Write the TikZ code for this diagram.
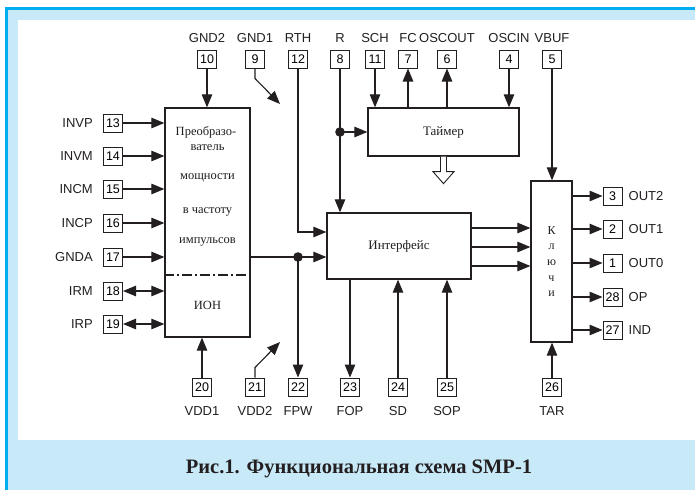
\documentclass[tikz,border=0pt]{standalone}
\usepackage{fontspec}
\setmainfont{Liberation Serif}
\setsansfont{Liberation Sans}
\usetikzlibrary{arrows.meta, positioning, calc}
\definecolor{edgeblue}{RGB}{0,174,239}
\definecolor{paleblue}{RGB}{200,233,248}
\definecolor{ink}{RGB}{35,31,32}

\begin{document}
\begin{tikzpicture}[x=1pt, y=-1pt, >={Triangle[length=13pt,width=10.5pt]},
  pinbox/.style={draw=ink, line width=1pt, minimum width=19pt, minimum height=18pt,
    inner sep=0pt, font=\sffamily\fontsize{12.5}{12.5}\selectfont},
  every label/.style={inner sep=0pt, text=ink, font=\sffamily\fontsize{13}{13}\selectfont},
  blk/.style={draw=ink, line width=1.3pt, inner sep=0pt, text=ink,
    font=\fontsize{13}{14}\selectfont},
  btxt/.style={inner sep=0pt, text=ink, font=\fontsize{12.5}{14}\selectfont},
  wire/.style={draw=ink, line width=1.1pt}]
  \useasboundingbox (0,0) rectangle (695,490);
  % frame and caption band
  \fill[edgeblue] (5,7) rectangle (695,490);
  \fill[paleblue] (8,10) rectangle (695,490);
  \fill[white] (18,20) rectangle (695,440);
  \node[anchor=base, text=ink, font=\bfseries\fontsize{20.5}{20.5}\selectfont] (cap) at (359,473)
    {Рис.1. Функциональная схема SMP-1};

  % blocks
  \node[blk, minimum width=85pt, minimum height=229pt] (conv) at (207.5,222.5) {};
  \node[blk, minimum width=151pt, minimum height=48pt] (tmr) at (443.5,132) {Таймер};
  \node[blk, minimum width=144pt, minimum height=66pt] (intf) at (399,246) {Интерфейс};
  \node[blk, minimum width=41pt, minimum height=161pt, align=center,
    font=\fontsize{12}{15.7}\selectfont] (keys) at (551.5,261.5) {К\\л\\ю\\ч\\и};
  \node[btxt] (convA) at (206,132) {Преобразо-};
  \node[btxt] (convB) at (207.5,148) {ватель};
  \node[btxt] (convC) at (207.5,178) {мощности};
  \node[btxt] (convD) at (207.5,212) {в частоту};
  \node[btxt] (convE) at (207.5,242) {импульсов};
  \node[btxt] (ion) at (207.5,305) {ИОН};
  \draw[ink, line width=1.1pt, dash pattern=on 10pt off 3pt on 2pt off 3pt]
    ([yshift=-52.5pt]conv.west) -- ([yshift=-52.5pt]conv.east);

  % pins, top
  \begin{scope}[label distance=7pt]
    \node[pinbox, label={above:GND2}] (p10) at (207,59) {10};
    \node[pinbox, label={above:GND1}] (p9) at (255,59) {9};
    \node[pinbox, label={above:RTH}] (p12) at (298,59) {12};
    \node[pinbox, label={above:R}] (p8) at (340,59) {8};
    \node[pinbox, label={above:SCH}] (p11) at (375,59) {11};
    \node[pinbox, label={above:FC}] (p7) at (408,59) {7};
    \node[pinbox, label={above:OSCOUT}] (p6) at (447,59) {6};
    \node[pinbox, label={above:OSCIN}] (p4) at (509,59) {4};
    \node[pinbox, label={above:VBUF}] (p5) at (552,59) {5};
  \end{scope}
  % pins, left
  \begin{scope}[label distance=10pt]
    \node[pinbox, label={left:INVP}] (p13) at (113,123) {13};
    \node[pinbox, label={left:INVM}] (p14) at (113,156) {14};
    \node[pinbox, label={left:INCM}] (p15) at (113,189) {15};
    \node[pinbox, label={left:INCP}] (p16) at (113,223) {16};
    \node[pinbox, label={left:GNDA}] (p17) at (113,257) {17};
    \node[pinbox, label={left:IRM}] (p18) at (113,291) {18};
    \node[pinbox, label={left:IRP}] (p19) at (113,324) {19};
  \end{scope}
  % pins, right
  \begin{scope}[label distance=6pt]
    \node[pinbox, label={right:OUT2}] (p3) at (612.5,196) {3};
    \node[pinbox, label={right:OUT1}] (p2) at (612.5,229) {2};
    \node[pinbox, label={right:OUT0}] (p1) at (612.5,263) {1};
    \node[pinbox, label={right:OP}] (p28) at (612.5,297) {28};
    \node[pinbox, label={right:IND}] (p27) at (612.5,330) {27};
  \end{scope}
  % pins, bottom
  \begin{scope}[label distance=10pt]
    \node[pinbox, label={below:VDD1}] (p20) at (202,387) {20};
    \node[pinbox, label={below:VDD2}] (p21) at (255,387) {21};
    \node[pinbox, label={below:FPW}] (p22) at (298,387) {22};
    \node[pinbox, label={below:FOP}] (p23) at (350,387) {23};
    \node[pinbox, label={below:SD}] (p24) at (398,387) {24};
    \node[pinbox, label={below:SOP}] (p25) at (447,387) {25};
    \node[pinbox, label={below:TAR}] (p26) at (552,387) {26};
  \end{scope}

  % converter inputs
  \foreach \n in {13,14,15,16,17}
    \draw[wire, ->] (p\n.east) -- (p\n -| conv.west);
  \draw[wire, <->] (p18.east) -- (p18 -| conv.west);
  \draw[wire, <->] (p19.east) -- (p19 -| conv.west);
  \draw[wire, ->] (p10.south) -- (p10 |- conv.north);
  \draw[wire, ->] (p20.north) -- (p20 |- conv.south);
  % ground and supply marks
  \coordinate (gndtip) at (280,104);
  \coordinate (vddtip) at (280,342);
  \draw[wire, ->] (p9.south) -- ++(0,10) -- (gndtip);
  \draw[wire, ->] (p21.north) -- ++(0,-10) -- (vddtip);

  % converter output
  \coordinate (cout) at ([yshift=-34.5pt]conv.east);
  \draw[wire, ->] (cout) -- (cout -| intf.west);
  \fill[ink] (p22 |- cout) circle (4.8pt);
  \draw[wire, ->] (p22 |- cout) -- (p22.north);

  % timer
  \draw[wire, ->] (p12.south) |- ([yshift=14pt]intf.west);
  \draw[wire, ->] (p8.south) -- (p8 |- intf.north);
  \fill[ink] (p8 |- tmr.west) circle (4.8pt);
  \draw[wire, ->] (p8 |- tmr.west) -- (tmr.west);
  \draw[wire, ->] (p11.south) -- (p11 |- tmr.north);
  \draw[wire, ->] (p7 |- tmr.north) -- (p7.south);
  \draw[wire, ->] (p6 |- tmr.north) -- (p6.south);
  \draw[wire, ->] (p4.south) -- (p4 |- tmr.north);
  % hollow arrow under timer
  \draw[ink, line width=0.9pt, fill=white] ([xshift=-3pt]tmr.south) -- ++(0,15) -- ++(-7.5,0)
    -- ++(10.5,12) -- ++(10.5,-12) -- ++(-7.5,0) -- ([xshift=3pt]tmr.south);

  % interface
  \draw[wire, ->] (p23 |- intf.south) -- (p23.north);
  \draw[wire, ->] (p24.north) -- (p24 |- intf.south);
  \draw[wire, ->] (p25.north) -- (p25 |- intf.south);
  \coordinate (i1) at ([yshift=18pt]intf.east);
  \coordinate (i2) at ([yshift=-1pt]intf.east);
  \coordinate (i3) at ([yshift=-20pt]intf.east);
  \foreach \c in {i1,i2,i3}
    \draw[wire, ->] (\c) -- (\c -| keys.west);

  % keys
  \draw[wire, ->] (p5.south) -- (p5 |- keys.north);
  \draw[wire, ->] (p26.north) -- (p26 |- keys.south);
  \foreach \n in {3,2,1,28,27}
    \draw[wire, ->] (p\n -| keys.east) -- (p\n.west);
\end{tikzpicture}
\end{document}
